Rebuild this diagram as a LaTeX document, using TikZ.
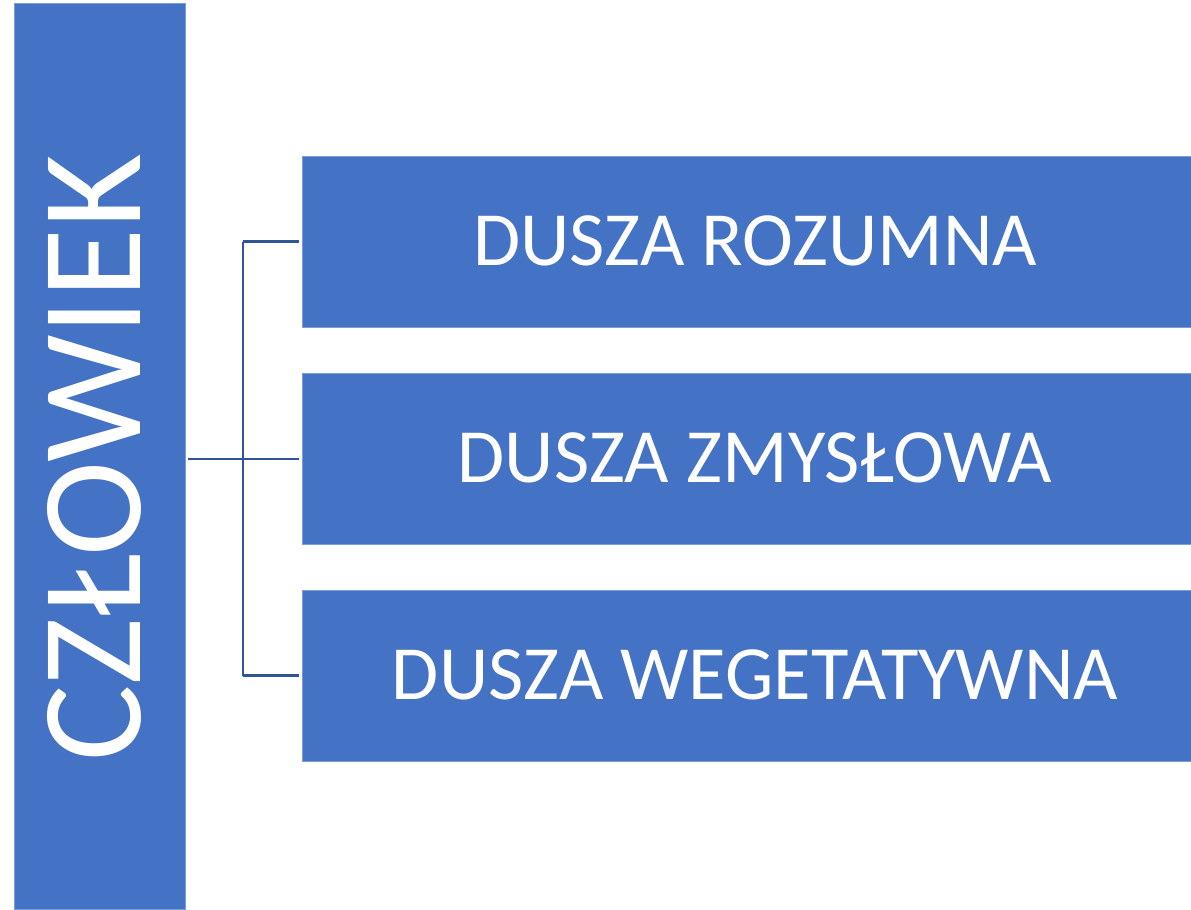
\documentclass[tikz,border=0pt]{standalone}
\usepackage{fontspec}
\setmainfont{Carlito}
\definecolor{boxblue}{HTML}{4472C4}
\definecolor{lineblue}{HTML}{2F5597}
\begin{document}
\begin{tikzpicture}[x=1bp,y=-1bp,
  bluebox/.style={fill=boxblue,draw=boxblue!70!white,line width=0.8bp,inner sep=0pt,outer sep=0pt},
  conn/.style={draw=lineblue,line width=2.6bp},
  bigtxt/.style={text=white,font=\fontsize{77}{90}\selectfont},
  hugetxt/.style={text=white,font=\fontsize{144}{170}\selectfont}]
\useasboundingbox (0,0) rectangle (1191,910);
\fill[white] (0,0) rectangle (1191,910);
% left box
\node[bluebox,minimum width=171bp,minimum height=906bp,anchor=north west] (man) at (14,3) {};
\node[hugetxt,rotate=90] (mantxt) at (94,458) {CZŁOWIEK};
% right boxes
\node[bluebox,minimum width=895bp,minimum height=171bp,anchor=north west] (b1) at (302,156) {};
\node[bluebox,minimum width=895bp,minimum height=171bp,anchor=north west] (b2) at (302,373) {};
\node[bluebox,minimum width=895bp,minimum height=171bp,anchor=north west] (b3) at (302,590) {};
\node[bigtxt] (t1) at (755,241) {DUSZA ROZUMNA};
\node[bigtxt] (t2) at (755,458) {DUSZA ZMYSŁOWA};
\node[bigtxt] (t3) at (755,675) {DUSZA WEGETATYWNA};
% connectors
\coordinate (jx) at (243,459);
\draw[conn] ([xshift=3bp]man.east |- jx) -- ([xshift=-3bp]b2.west |- jx);
\draw[conn] (jx |- b1.west) -- (jx |- b3.west);
\draw[conn] (jx |- b1.west) -- ([xshift=-3bp]b1.west);
\draw[conn] (jx |- b3.west) -- ([xshift=-3bp]b3.west);
\end{tikzpicture}
\end{document}
